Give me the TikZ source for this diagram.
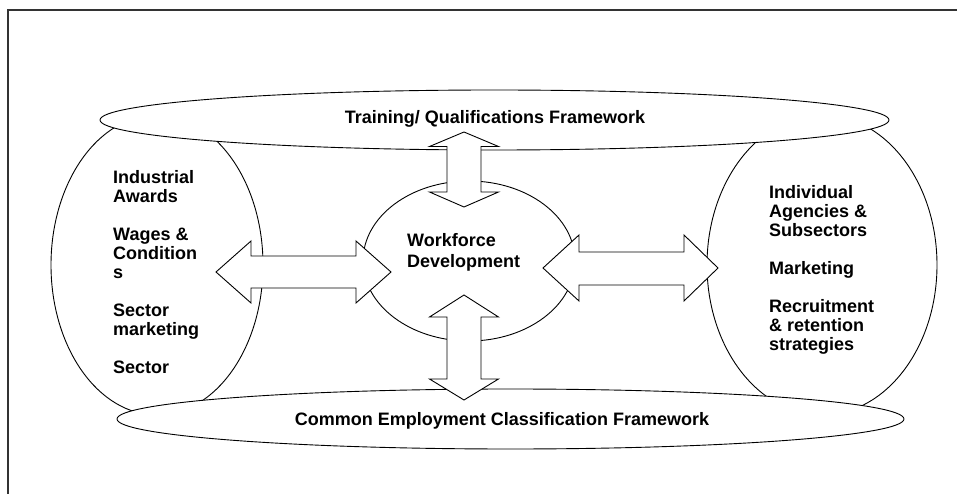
\documentclass[tikz,border=0pt]{standalone}
\usepackage{fontspec}
\setmainfont{Liberation Sans}
\usetikzlibrary{shapes.geometric}
\begin{document}
\begin{tikzpicture}[x=1bp,y=-1bp,
  oval/.style={draw=black,line width=0.9bp,fill=white,ellipse,inner sep=0pt},
  bigarrow/.style={draw=black,line width=0.9bp,fill=white,line join=miter},
  lbl/.style={font=\fontsize{18bp}{19bp}\selectfont\bfseries,inner sep=0pt},
  frameline/.style={draw=black!80,line width=1.8bp}]
\useasboundingbox (0,0) rectangle (957,494);
\path[fill=white] (0,0) rectangle (957,494);
% outer frame (only top and left edges visible)
\coordinate (fbl) at (8,494);
\coordinate (ftl) at (8,10);
\coordinate (ftr) at (957,10);
\draw[frameline] (fbl) -- (ftl) -- (ftr);
% side ellipses
\node[oval,minimum width=212bp,minimum height=300bp] (left) at (157,265) {};
\node[oval,minimum width=230bp,minimum height=300bp] (right) at (822,265) {};
% top and bottom ellipses
\node[oval,minimum width=789bp,minimum height=60bp] (top) at (494.5,120) {};
\node[oval,minimum width=787bp,minimum height=60bp] (bottom) at (510.5,419) {};
% centre ellipse
\node[oval,minimum width=212bp,minimum height=160bp] (centre) at (469,261) {};
% double arrows
% left
\draw[bigarrow] (216,272) -- (251,241) -- (251,256) -- (356,256) -- (356,241) -- (391,272)
  -- (356,303) -- (356,288) -- (251,288) -- (251,303) -- cycle;
% right
\draw[bigarrow] (543,268) -- (579,235) -- (579,252) -- (684,252) -- (684,235) -- (718,268)
  -- (684,301) -- (684,285) -- (579,285) -- (579,301) -- cycle;
% top
\draw[bigarrow] (464,132) -- (498.5,146.5) -- (481,146.5) -- (481,192) -- (498.5,192) -- (464,207)
  -- (429.5,192) -- (447,192) -- (447,146.5) -- (429.5,146.5) -- cycle;
% bottom
\draw[bigarrow] (464,295) -- (498.5,317) -- (481,317) -- (481,379) -- (498.5,379) -- (464,400)
  -- (429.5,379) -- (447,379) -- (447,317) -- (429.5,317) -- cycle;
% texts
\node[lbl,anchor=base] (ttop) at (495,123.5) {Training/ Qualifications Framework};
\node[lbl,anchor=base] (tbot) at (502,425.5) {Common Employment Classification Framework};
\node[lbl,anchor=base west] (tcen) at (407,246.5)
  {\begin{tabular}[t]{@{}l@{}}Workforce\\[2bp]Development\end{tabular}};
\node[lbl,anchor=base west] (tleft) at (113,183.5)
  {\begin{tabular}[t]{@{}l@{}}Industrial\\Awards\\[19bp]Wages \&\\Condition\\s\\[19bp]Sector\\marketing\\[19bp]Sector\end{tabular}};
\node[lbl,anchor=base west] (tright) at (769,198.5)
  {\begin{tabular}[t]{@{}l@{}}Individual\\Agencies \&\\Subsectors\\[19bp]Marketing\\[19bp]Recruitment\\\& retention\\strategies\end{tabular}};
\end{tikzpicture}
\end{document}
